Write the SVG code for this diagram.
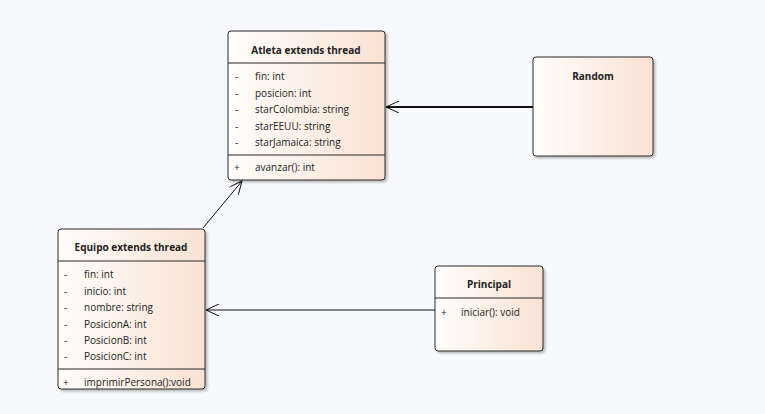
<svg xmlns="http://www.w3.org/2000/svg" width="765" height="414" viewBox="0 0 765 414">
<defs>
<linearGradient id="g" x1="0" y1="0" x2="1" y2="0">
<stop offset="0" stop-color="#fffdfb"/>
<stop offset="1" stop-color="#f9e2d3"/>
</linearGradient>
<marker id="arr" markerWidth="14" markerHeight="12" refX="13" refY="6" orient="auto" markerUnits="userSpaceOnUse">
<path d="M0,0 L13,6 L0,12" fill="none" stroke="#111" stroke-width="1"/>
</marker>
<filter id="sh" x="-10%" y="-10%" width="120%" height="120%">
<feDropShadow dx="2" dy="2" stdDeviation="1.2" flood-color="#000" flood-opacity="0.25"/>
</filter>
</defs>
<style>
.box{fill:url(#g);stroke:#2b2b2b;stroke-width:1;filter:url(#sh)}
.div{stroke:#2b2b2b;stroke-width:1}
text{font-family:"Open Sans","Liberation Sans",sans-serif;font-size:10px;fill:#222}
.t{font-weight:bold;text-anchor:middle}
.c{stroke:#111;fill:none}
</style>
<rect width="765" height="414" fill="#f8f9fc"/>
<g id="connectors">
<line class="c" x1="533" y1="107" x2="386" y2="107" stroke-width="2" marker-end="url(#arr)"/>
<line class="c" x1="435" y1="310" x2="206" y2="310" stroke-width="1" marker-end="url(#arr)"/>
<line class="c" x1="203" y1="228" x2="242" y2="181" stroke-width="1" marker-end="url(#arr)"/>
</g>
<g id="atleta">
<rect class="box" x="228" y="31" width="157" height="149" rx="3"/>
<text class="t" x="306" y="54">Atleta extends thread</text>
<line class="div" x1="228" y1="63" x2="385" y2="63"/>
<text x="235" y="80">-</text><text x="255" y="80">fin: int</text>
<text x="235" y="97">-</text><text x="255" y="97">posicion: int</text>
<text x="235" y="113">-</text><text x="255" y="113">starColombia: string</text>
<text x="235" y="130">-</text><text x="255" y="130">starEEUU: string</text>
<text x="235" y="146">-</text><text x="255" y="146">starJamaica: string</text>
<line class="div" x1="228" y1="155" x2="385" y2="155"/>
<text x="234" y="171">+</text><text x="255" y="171">avanzar(): int</text>
</g>
<g id="random">
<rect class="box" x="533" y="57" width="120" height="99" rx="3"/>
<text class="t" x="593" y="80">Random</text>
</g>
<g id="equipo">
<rect class="box" x="58" y="229" width="147" height="160" rx="3"/>
<text class="t" x="131" y="251">Equipo extends thread</text>
<line class="div" x1="58" y1="261" x2="205" y2="261"/>
<text x="64" y="278">-</text><text x="84" y="278">fin: int</text>
<text x="64" y="295">-</text><text x="84" y="295">inicio: int</text>
<text x="64" y="311">-</text><text x="84" y="311">nombre: string</text>
<text x="64" y="328">-</text><text x="84" y="328">PosicionA: int</text>
<text x="64" y="344">-</text><text x="84" y="344">PosicionB: int</text>
<text x="64" y="360">-</text><text x="84" y="360">PosicionC: int</text>
<line class="div" x1="58" y1="369" x2="205" y2="369"/>
<text x="63" y="386">+</text><text x="84" y="386">imprimirPersona():void</text>
</g>
<g id="principal">
<rect class="box" x="435" y="266" width="108" height="85" rx="3"/>
<text class="t" x="489" y="288">Principal</text>
<line class="div" x1="435" y1="298" x2="543" y2="298"/>
<text x="441" y="316">+</text><text x="461" y="316">iniciar(): void</text>
</g>
</svg>
